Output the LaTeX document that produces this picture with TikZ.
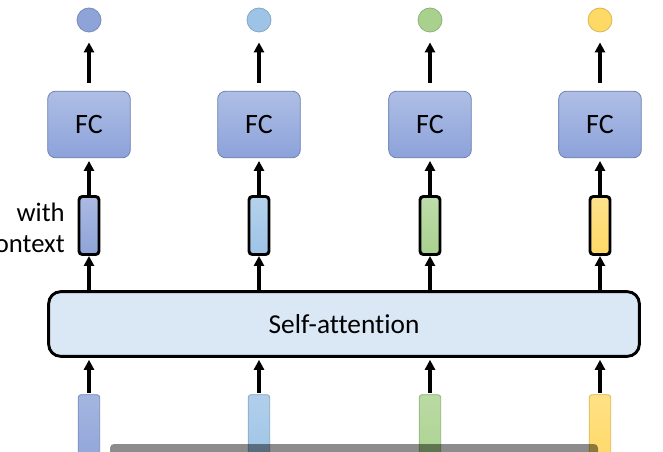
\documentclass[tikz,border=0pt]{standalone}
\usepackage{fontspec}
\setmainfont{Carlito}[Ligatures=CommonOff]
\usetikzlibrary{arrows.meta,positioning}
\definecolor{vecblue}{HTML}{8EA3D8}
\definecolor{veclight}{HTML}{9DC3E6}
\definecolor{vecgreen}{HTML}{A9D18E}
\definecolor{vecyellow}{HTML}{FFD966}
\definecolor{fcblue}{HTML}{8CA2DA}
\definecolor{sablue}{HTML}{DAE8F6}

\begin{document}
\begin{tikzpicture}[x=0.75pt,y=-0.75pt,
    arr/.style={-{Triangle[length=7.5pt,width=7.5pt]},line width=2.3pt},
    fcbox/.style={draw=fcblue!80!black,line width=.6pt,top color=fcblue!70!white,bottom color=fcblue,
      rounded corners=6pt,minimum width=62pt,minimum height=50pt,inner sep=0pt,
      font=\fontsize{21}{24}\selectfont},
    ctxvec/.style={draw=black,line width=2.2pt,rounded corners=2.5pt,minimum width=15pt,minimum height=43.5pt,inner sep=0pt},
    invec/.style={line width=.6pt,rounded corners=2pt,minimum width=16pt,minimum height=56pt,inner sep=0pt},
    outdot/.style={circle,line width=.6pt,minimum size=18pt,inner sep=0pt}]
  \useasboundingbox (0,0) rectangle (663,452);
  \clip (0,0) rectangle (663,452);
  \node[draw,line width=2.2pt,fill=sablue,rounded corners=9pt,minimum width=443pt,minimum height=48.5pt,
    font=\fontsize{20.5}{24}\selectfont] (sa) at (344,324) {Self-attention};
  \node[anchor=east,align=right,inner sep=0pt,font=\fontsize{20}{23}\selectfont] (lab) at (65,228) {with\\context};
  \foreach \c/\col [count=\i] in {89/vecblue,259/veclight,430/vecgreen,600/vecyellow}{
    \node[invec,draw=\col!85!black,top color=\col!80!white,bottom color=\col] (in\i) at (\c,432) {};
    \node[ctxvec,top color=\col!75!white,bottom color=\col] (ctx\i) at (\c,225.5) {};
    \node[fcbox] (fc\i) at (\c,124.5) {FC};
    \node[outdot,draw=\col!85!black,fill=\col] (out\i) at (\c,20) {};
    \draw[arr,shorten <=1pt,shorten >=1.5pt] (in\i.north) -- (in\i |- sa.south);
    \draw[arr] (sa.north -| ctx\i) -- (ctx\i.south);
    \draw[arr,shorten >=2pt] (ctx\i.north) -- (fc\i.south);
    \draw[arr,shorten <=6pt,shorten >=7.5pt] (fc\i.north) -- (out\i.south);
  }
  % video player bar
  \fill[black,opacity=.45,rounded corners=3pt] (110,444) rectangle (598,470);
\end{tikzpicture}
\end{document}
